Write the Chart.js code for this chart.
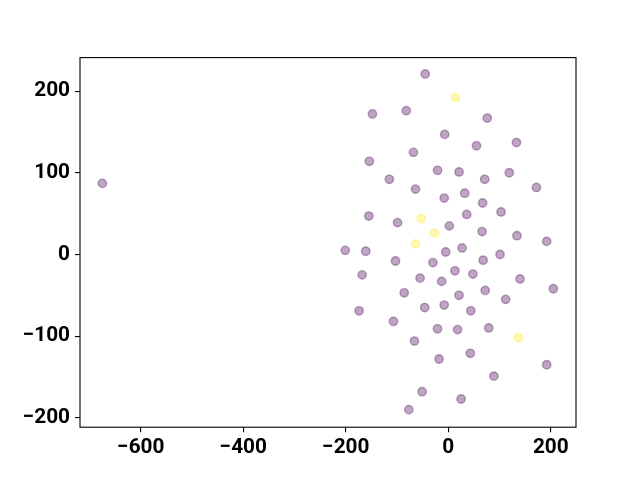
<!DOCTYPE html>
<html>
<head>
<meta charset="utf-8">
<script src="https://cdn.jsdelivr.net/npm/chart.js@4/dist/chart.umd.min.js"></script>
<style>
  body { margin: 0; background: #fff; }
  #wrap { width: 640px; height: 480px; }
</style>
</head>
<body>
<div id="wrap"><canvas id="grafico" width="640" height="480"></canvas></div>
<script>
// point coordinates
const xs = [-675, -45, 14, -148, -82, 76, -7, 55, 133, -154, -68, -115, -21, 21, 71, 119, 172,
    -64, -8, 32, 67, -155, -99, -53, 36, 103, -27, 2, 66, 134, 192, -64, -201, -161, -5, 27,
    -103, -30, 68, 101, -168, 13, 48, -55, -13, 140, -86, 72, 205, 21, 112, -174, -46, -8, 44,
    -107, -21, 18, 79, 137, -66, 43, -18, 192, 89, -51, 25, -77];
const ys = [87, 221, 192, 172, 176, 167, 147, 133, 137, 114, 125, 92, 103, 101, 92, 100, 82,
    80, 69, 75, 63, 47, 39, 44, 49, 52, 26, 35, 28, 23, 16, 13, 5, 4, 3, 8,
    -8, -10, -7, 0, -25, -20, -24, -29, -33, -30, -47, -44, -42, -50, -55, -69, -65, -62, -69,
    -82, -91, -92, -90, -102, -106, -121, -128, -135, -149, -168, -177, -190];
// class of each point: 1 = yellow, 0 = purple
const classes = [0, 0, 1, 0, 0, 0, 0, 0, 0, 0, 0, 0, 0, 0, 0, 0, 0,
    0, 0, 0, 0, 0, 0, 1, 0, 0, 1, 0, 0, 0, 0, 1, 0, 0, 0, 0,
    0, 0, 0, 0, 0, 0, 0, 0, 0, 0, 0, 0, 0, 0, 0, 0, 0, 0, 0,
    0, 0, 0, 0, 1, 0, 0, 0, 0, 0, 0, 0, 0];
const xTicks = [-600, -400, -200, 0, 200];
const yTicks = [-200, -100, 0, 100, 200];

const colours = ["rgba(68, 1, 84, 0.35)", "rgba(253, 231, 37, 0.35)"];

const frame = {
    id: "frame",
    afterDatasetsDraw(chart) {
        const a = chart.chartArea;
        const ctx = chart.ctx;
        ctx.save();
        ctx.strokeStyle = "#000";
        ctx.lineWidth = 1.1;
        ctx.strokeRect(a.left, a.top, a.right - a.left, a.bottom - a.top);
        ctx.restore();
    },
};

function minus(v) {
    return String(v).replace("-", "\u2212");
}

function generateChart() {
    const info = {
        datasets: [
            {
                data: xs.map((x, i) => ({x: x, y: ys[i]})),
                backgroundColor: classes.map((c) => colours[c]),
                borderColor: classes.map((c) => colours[c]),
                borderWidth: 1.4,
                pointRadius: 4.2,
                pointHoverRadius: 4.2,
            },
        ],
    };
    const tickFont = {family: "Roboto", weight: "bold", size: 20.8};
    const options = {
        responsive: false,
        animation: false,
        layout: {padding: {left: 0, top: 57.6, right: 64, bottom: 0}},
        scales: {
            x: {
                type: "linear",
                min: -718.6,
                max: 249.2,
                afterBuildTicks: (s) => { s.ticks = xTicks.map((v) => ({value: v})); },
                afterFit: (s) => { s.height = 52.8; },
                border: {display: false},
                grid: {display: true, drawOnChartArea: false, drawTicks: true, tickLength: 5, color: "#000", lineWidth: 1.1},
                ticks: {color: "#000", font: tickFont, padding: 3, maxRotation: 0, callback: minus},
            },
            y: {
                type: "linear",
                min: -211.5,
                max: 241,
                afterBuildTicks: (s) => { s.ticks = yTicks.map((v) => ({value: v})); },
                afterFit: (s) => { s.width = 80; },
                border: {display: false},
                grid: {display: true, drawOnChartArea: false, drawTicks: true, tickLength: 5, color: "#000", lineWidth: 1.1},
                ticks: {color: "#000", font: tickFont, padding: 5, callback: minus},
            },
        },
        plugins: {
            legend: {display: false},
            tooltip: {enabled: false},
        },
    };
    const config = {
        type: "scatter",
        data: info,
        options,
        plugins: [frame],
    };
    new Chart(document.getElementById("grafico"), config);
}
generateChart();
</script>
</body>
</html>
